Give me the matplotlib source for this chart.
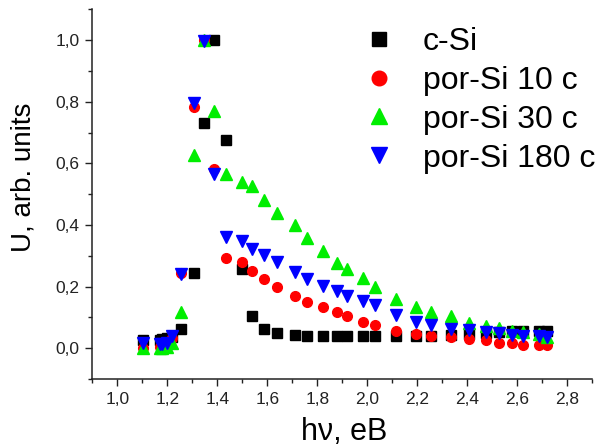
import matplotlib
matplotlib.use("Agg")
import matplotlib.pyplot as plt
from matplotlib.ticker import MultipleLocator, FixedLocator, FixedFormatter

plt.rcParams['font.family'] = ['Liberation Sans', 'DejaVu Sans']

# photon energy, eV (shared by all series)
hv = [1.104, 1.17, 1.18, 1.20, 1.22, 1.255, 1.305, 1.345, 1.387, 1.436,
      1.498, 1.54, 1.587, 1.639, 1.711, 1.759, 1.822, 1.879, 1.92, 1.982,
      2.031, 2.115, 2.195, 2.254, 2.335, 2.407, 2.474, 2.528, 2.578, 2.624,
      2.687, 2.718]

c_si = [0.027, 0.027, 0.029, 0.032, 0.036, 0.063, 0.243, 0.73, 1.0, 0.675,
        0.258, 0.105, 0.062, 0.049, 0.043, 0.041, 0.040, 0.040, 0.040, 0.038,
        0.038, 0.038, 0.038, 0.040, 0.043, 0.046, 0.049, 0.052, 0.056, 0.056,
        0.055, 0.055]

por_10 = [0.0, 0.005, 0.010, 0.020, 0.033, 0.245, 0.782, 1.0, 0.581, 0.292,
          0.281, 0.252, 0.224, 0.197, 0.171, 0.151, 0.133, 0.118, 0.103, 0.086,
          0.076, 0.057, 0.046, 0.040, 0.036, 0.029, 0.025, 0.018, 0.016, 0.011,
          0.011, 0.009]

por_30 = [0.0, 0.0, 0.0, 0.005, 0.016, 0.117, 0.628, 1.0, 0.771, 0.565,
          0.540, 0.525, 0.482, 0.440, 0.400, 0.357, 0.316, 0.276, 0.257, 0.229,
          0.200, 0.159, 0.135, 0.116, 0.103, 0.081, 0.072, 0.065, 0.057, 0.054,
          0.045, 0.035]

por_180 = [0.016, 0.012, 0.015, 0.017, 0.040, 0.240, 0.797, 0.998, 0.566, 0.362,
           0.349, 0.323, 0.304, 0.279, 0.248, 0.225, 0.203, 0.185, 0.168, 0.154,
           0.140, 0.108, 0.086, 0.076, 0.062, 0.059, 0.052, 0.049, 0.043, 0.040,
           0.038, 0.036]

labels = ['c-Si', 'por-Si 10 c', 'por-Si 30 c', 'por-Si 180 c']

xticks = [1.0, 1.2, 1.4, 1.6, 1.8, 2.0, 2.2, 2.4, 2.6, 2.8]
xtick_labels = ['1,0', '1,2', '1,4', '1,6', '1,8', '2,0', '2,2', '2,4', '2,6', '2,8']
yticks = [0.0, 0.2, 0.4, 0.6, 0.8, 1.0]
ytick_labels = ['0,0', '0,2', '0,4', '0,6', '0,8', '1,0']

fig = plt.figure(figsize=(6.07, 4.48), dpi=100)
ax = fig.add_axes([92.3 / 607, 69 / 448, 500 / 607, 369.7 / 448])

ax.plot(hv, c_si, linestyle='none', marker='s', ms=7, color='black', mec='black', label=labels[0])
ax.plot(hv, por_10, linestyle='none', marker='o', ms=7, color='#ff0000', mec='#ff0000', label=labels[1])
ax.plot(hv, por_30, linestyle='none', marker='^', ms=8, color='#00ee00', mec='#00ee00', label=labels[2])
ax.plot(hv, por_180, linestyle='none', marker='v', ms=8, color='#0000ff', mec='#0000ff', label=labels[3])

ax.set_xlim(0.9, 2.9)
ax.set_ylim(-0.1, 1.1)

for s in ['top', 'right']:
    ax.spines[s].set_visible(False)
for s in ['left', 'bottom']:
    ax.spines[s].set_linewidth(1.1)
    ax.spines[s].set_color('#222222')

ax.xaxis.set_major_locator(FixedLocator(xticks))
ax.xaxis.set_major_formatter(FixedFormatter(xtick_labels))
ax.yaxis.set_major_locator(FixedLocator(yticks))
ax.yaxis.set_major_formatter(FixedFormatter(ytick_labels))
ax.xaxis.set_minor_locator(MultipleLocator(0.1))
ax.yaxis.set_minor_locator(MultipleLocator(0.1))
ax.tick_params(which='major', direction='out', length=5, width=1.0, labelsize=12.5, colors='#222222', pad=4)
ax.tick_params(which='minor', direction='out', length=3, width=1.0, colors='#222222')

ax.set_xlabel('hν, eB', fontsize=22)
ax.set_ylabel('U, arb. units', fontsize=20)
ax.xaxis.set_label_coords(0.503, -0.103)
ax.yaxis.set_label_coords(-0.111, 0.546)

ax.legend(loc='upper left', bbox_to_anchor=(350 / 607, 1 - 14 / 448), bbox_transform=fig.transFigure,
          frameon=False, fontsize=23, handlelength=1.0, handletextpad=0.875,
          labelspacing=0.28, borderaxespad=0, markerscale=1.5)

fig.savefig('out.png', dpi=100)
